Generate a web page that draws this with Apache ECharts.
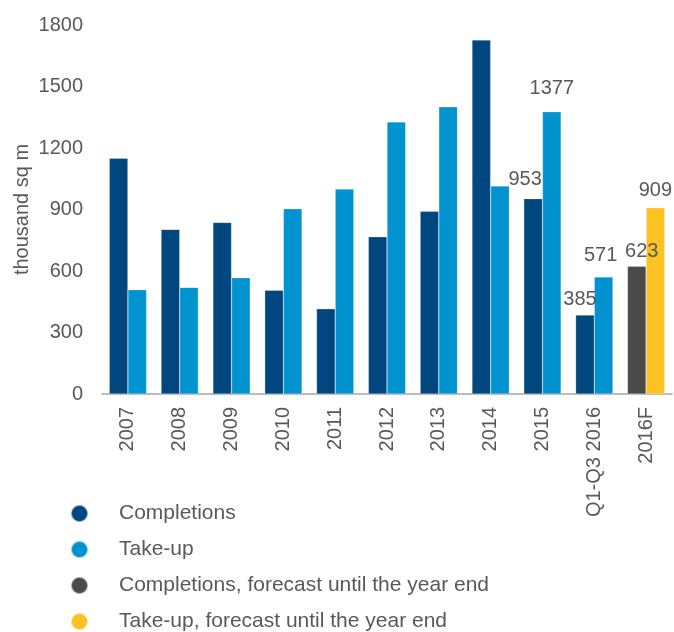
<!DOCTYPE html>
<html>
<head>
<meta charset="utf-8">
<title>Completions and take-up</title>
<script src="https://cdn.jsdelivr.net/npm/echarts@6/dist/echarts.min.js"></script>
<style>
  html, body { margin: 0; padding: 0; background: #fff; }
  #chart { width: 674px; height: 632px; }
</style>
</head>
<body>
<div id="chart"></div>
<script>
// categories and values (thousand sq m)
const categories = ["2007", "2008", "2009", "2010", "2011", "2012", "2013", "2014", "2015", "Q1-Q3 2016", "2016F"];
const completions = [1150, 803, 837, 506, 416, 767, 891, 1727, 953, 385, null];
const takeUp = [509, 520, 567, 904, 1000, 1327, 1401, 1015, 1377, 571, null];
const completionsForecast = [null, null, null, null, null, null, null, null, null, null, 623];
const takeUpForecast = [null, null, null, null, null, null, null, null, null, null, 909];
const seriesNames = ["Completions", "Take-up", "Completions, forecast until the year end", "Take-up, forecast until the year end"];
const yTicks = { min: 0, max: 1800, interval: 300 };

const font = "'Liberation Sans', Arial, sans-serif";
const textColor = "#595959";
const colors = ["#00467f", "#0093d0", "#4a4a4a", "#fcc123"];

// which bars carry a value label, and how far it is nudged [x, y]
const labelNudge = {
  "0-8": [-8, -4],
  "1-8": [0, -8],
  "0-9": [-5, -1],
  "1-9": [-3, -6],
  "2-10": [5, 0],
  "3-10": [0, -2],
};

function buildData(values, s) {
  return values.map((v, i) => {
    const nudge = labelNudge[s + "-" + i];
    if (!nudge || v == null) return v;
    return {
      value: v,
      label: {
        show: true,
        position: "top",
        offset: nudge,
        color: textColor,
        fontSize: 20,
        fontFamily: font,
      },
    };
  });
}

const myChart = echarts.init(document.getElementById("chart"));

const seriesArr = [completions, takeUp, completionsForecast, takeUpForecast].map((vals, s) => ({
  name: seriesNames[s],
  type: "bar",
  stack: s % 2 === 0 ? "c" : "t",
  barGap: "0%",
  barCategoryGap: "28%",
  itemStyle: {
    color: colors[s],
    borderColor: "rgba(255,255,255,0.5)",
    borderWidth: 0.5,
  },
  data: buildData(vals, s),
}));

myChart.setOption({
  animation: false,
  textStyle: { fontFamily: font },
  grid: {
    left: 102,
    right: 2,
    top: 25,
    bottom: 238,
    outerBoundsMode: "none",
  },
  legend: {
    orient: "vertical",
    left: 65,
    top: 498,
    height: 200,
    icon: "circle",
    itemWidth: 17,
    itemHeight: 17,
    itemGap: 15,
    data: seriesNames,
    textStyle: {
      color: textColor,
      fontSize: 21,
      lineHeight: 21,
      fontFamily: font,
      padding: [0, 0, 0, 26],
    },
  },
  xAxis: {
    type: "category",
    data: categories,
    axisLine: { show: true, lineStyle: { color: "#a6a6a6", width: 1.5 } },
    axisTick: { show: false },
    axisLabel: {
      interval: 0,
      rotate: 90,
      margin: 13,
      color: textColor,
      fontSize: 20,
      fontFamily: font,
    },
  },
  yAxis: {
    type: "value",
    min: yTicks.min,
    max: yTicks.max,
    interval: yTicks.interval,
    name: "thousand sq m",
    nameLocation: "middle",
    nameGap: 70,
    nameMoveOverlap: false,
    nameTextStyle: { color: textColor, fontSize: 20, fontFamily: font },
    axisLine: { show: false },
    axisTick: { show: false },
    splitLine: { show: false },
    axisLabel: {
      margin: 19,
      color: textColor,
      fontSize: 20,
      fontFamily: font,
      formatter: (v) => String(v),
    },
  },
  series: seriesArr,
});
</script>
</body>
</html>
